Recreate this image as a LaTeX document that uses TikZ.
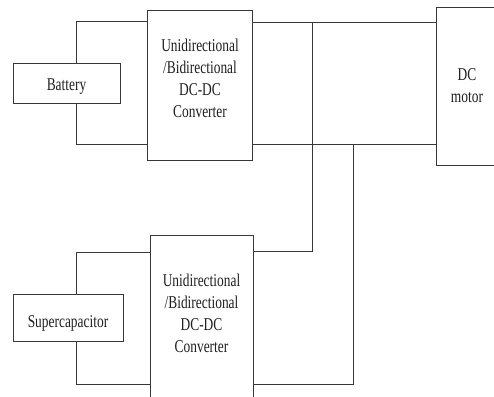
\documentclass[tikz,border=0pt]{standalone}
\usepackage{fontspec}
\usepackage{graphicx}
\setmainfont{Liberation Serif}
\newcommand\narrowtext[1]{\scalebox{0.745}[1]{\begin{tabular}{@{}c@{}}#1\end{tabular}}}
\begin{document}
\begin{tikzpicture}[x=1pt,y=-1pt,
  wire/.style={draw=black!78,line width=0.9pt},
  blockbox/.style={draw=black!78,line width=0.9pt,rectangle,inner sep=0pt},
  lbl/.style={inner sep=0pt,font=\fontsize{18}{22.2}\selectfont,text=black!88}]
  \useasboundingbox (0,0) rectangle (494,396);
  \clip (0,0) rectangle (494,396);
  \fill[white] (0,0) rectangle (494,396);

  % blocks
  \node[blockbox,minimum width=105pt,minimum height=150pt] (conv1) at (199.5,85) {};
  \node[blockbox,minimum width=107pt,minimum height=40pt] (bat) at (66.5,83) {};
  \node[blockbox,minimum width=62pt,minimum height=158pt] (motor) at (467,86) {};
  \node[blockbox,minimum width=103pt,minimum height=166pt] (conv2) at (201.5,318) {};
  \node[blockbox,minimum width=110pt,minimum height=47pt] (sc) at (68,317.5) {};

  % labels
  \node[lbl] (t1) at (200,79.9) {\narrowtext{Unidirectional\\/Bidirectional\\DC-DC\\Converter}};
  \node[lbl] (tb) at (66.5,85.6) {\narrowtext{Battery}};
  \node[lbl] (tm) at (467,87.2) {\narrowtext{DC\\motor}};
  \node[lbl] (t2) at (201.5,314.9) {\narrowtext{Unidirectional\\/Bidirectional\\DC-DC\\Converter}};
  \node[lbl] (ts) at (68,322.6) {\narrowtext{Supercapacitor}};

  % connection points
  \coordinate (batT) at (76,63);
  \coordinate (batB) at (76,103);
  \coordinate (c1Tin) at (147,21);
  \coordinate (c1Bin) at (147,144);
  \coordinate (c1Tout) at (252,22);
  \coordinate (c1Bout) at (252,144);
  \coordinate (mT) at (436,22);
  \coordinate (mB) at (436,144);
  \coordinate (jT) at (312,22);
  \coordinate (jB) at (353,144);
  \coordinate (scT) at (76,294);
  \coordinate (scB) at (76,341);
  \coordinate (c2Tin) at (150,252);
  \coordinate (c2Bin) at (150,384);
  \coordinate (c2Tout) at (253,251);
  \coordinate (c2Bout) at (253,384);

  % battery side
  \draw[wire] (batT) |- (c1Tin);
  \draw[wire] (batB) |- (c1Bin);
  % DC bus to motor
  \draw[wire] (c1Tout) -- (mT);
  \draw[wire] (c1Bout) -- (mB);
  % supercapacitor converter onto the bus
  \draw[wire] (jT) |- (c2Tout);
  \draw[wire] (jB) |- (c2Bout);
  % supercapacitor side
  \draw[wire] (scT) |- (c2Tin);
  \draw[wire] (scB) |- (c2Bin);
\end{tikzpicture}
\end{document}
